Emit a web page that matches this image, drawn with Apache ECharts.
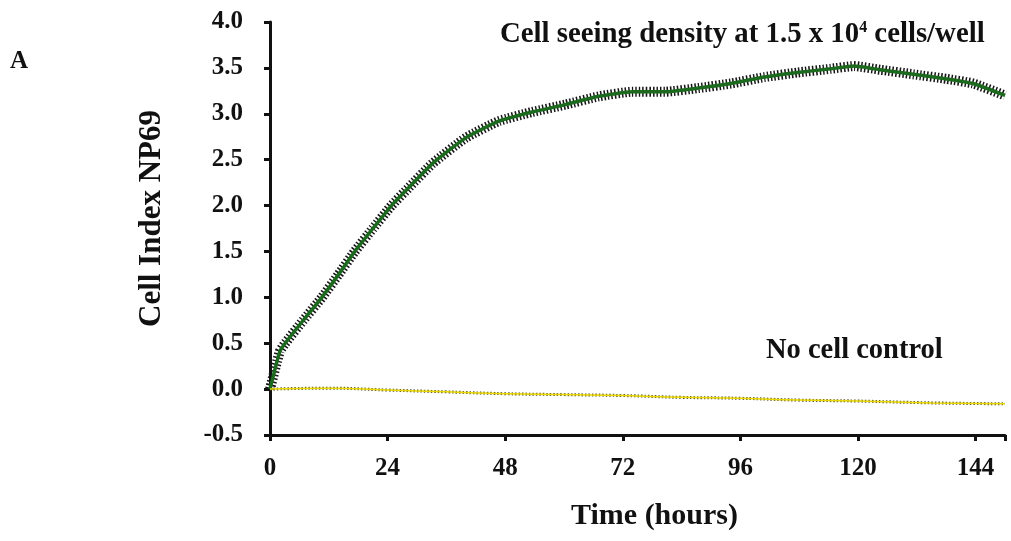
<!DOCTYPE html>
<html>
<head>
<meta charset="utf-8">
<script src="https://cdn.jsdelivr.net/npm/echarts@6/dist/echarts.min.js"></script>
<style>
  html, body { margin: 0; padding: 0; background: #fff; }
  #chart { width: 1011px; height: 541px; }
</style>
</head>
<body>
<div id="chart"></div>
<script>
// cell index readings (hours, value)
var cellTimes = [0, 2, 3.1, 6.8, 10.6, 14, 17.3, 21, 24.8, 28.4, 33.2, 40, 46.7, 53.5, 60.3, 67.1, 73.9, 80.6, 87.4, 94.1, 100.9, 107.7, 114.4, 119.2, 124.5, 131.3, 138.1, 143.5, 150]
var cellValues = [0, 0.41, 0.5, 0.75, 1.0, 1.25, 1.5, 1.75, 2.0, 2.2, 2.46, 2.74, 2.92, 3.02, 3.1, 3.19, 3.24, 3.24, 3.28, 3.33, 3.4, 3.45, 3.49, 3.52, 3.48, 3.43, 3.38, 3.33, 3.2]
var ctrlTimes = [0, 12, 24, 36, 48, 60, 72, 84, 96, 108, 120, 135, 150]
var ctrlValues = [0, 0.01, -0.01, -0.03, -0.05, -0.06, -0.07, -0.09, -0.1, -0.12, -0.13, -0.15, -0.16]
var xTicks = [0, 24, 48, 72, 96, 120, 144]

var font = 'Liberation Serif'
var chart = echarts.init(document.getElementById('chart'))

function pairs(t, v) {
  return t.map(function(x, i) { return [x, v[i]] })
}

chart.setOption({
  animation: false,
  backgroundColor: '#fff',
  grid: { left: 270, right: 6, top: 22, bottom: 106 },
  xAxis: {
    type: 'value',
    min: 0,
    max: 150,
    interval: 24,
    name: 'Time (hours)',
    nameLocation: 'middle',
    nameGap: 66,
    nameTextStyle: { fontFamily: font, fontWeight: 'bold', fontSize: 30, color: '#111', padding: [0, 0, 0, 34] },
    axisLine: { onZero: false, lineStyle: { color: '#111', width: 3 } },
    axisTick: { length: 6, lineStyle: { color: '#111', width: 3 } },
    axisLabel: {
      margin: 21, fontFamily: font, fontWeight: 'bold', fontSize: 25, color: '#111',
      formatter: function(v) { return xTicks.indexOf(v) >= 0 ? v : '' }
    },
    splitLine: { show: false }
  },
  yAxis: {
    type: 'value',
    min: -0.5,
    max: 4,
    interval: 0.5,
    name: 'Cell Index NP69',
    nameLocation: 'middle',
    nameGap: 103,
    nameTextStyle: { fontFamily: font, fontWeight: 'bold', fontSize: 31, color: '#111', padding: [0, 0, 0, 20] },
    axisLine: { show: true, lineStyle: { color: '#111', width: 3 } },
    axisTick: { show: true, length: 6, lineStyle: { color: '#111', width: 3 } },
    axisLabel: {
      margin: 27, fontFamily: font, fontWeight: 'bold', fontSize: 25, color: '#111',
      formatter: function(v) { return v.toFixed(1) }
    },
    splitLine: { show: false }
  },
  graphic: [
    { type: 'text', left: 10, top: 49, style: { text: 'A', font: 'bold 25px "Liberation Serif"', fill: '#111' } },
    { type: 'text', left: 766, top: 336, style: { text: 'No cell control', font: 'bold 28.5px "Liberation Serif"', fill: '#111' } },
    {
      type: 'text', left: 500, top: 20,
      style: {
        text: '{a|Cell seeing density at 1.5 x 10}{s|4}{a| cells/well}',
        rich: {
          a: { fontFamily: font, fontWeight: 'bold', fontSize: 28.8, fill: '#111', verticalAlign: 'bottom' },
          s: { fontFamily: font, fontWeight: 'bold', fontSize: 16, fill: '#111', verticalAlign: 'top', padding: [0, 0, 12, 0] }
        }
      }
    }
  ],
  series: [
    // error bars look: thick dashed black underlay
    {
      type: 'line', data: pairs(cellTimes, cellValues), smooth: 0.15, showSymbol: false, z: 2,
      lineStyle: { color: '#151515', width: 10, type: [1.5, 2] }
    },
    {
      type: 'line', data: pairs(cellTimes, cellValues), smooth: 0.15, showSymbol: false, z: 3,
      lineStyle: { color: '#1b6a1e', width: 3.5 }
    },
    {
      type: 'line', data: pairs(ctrlTimes, ctrlValues), smooth: true, showSymbol: false, z: 2,
      lineStyle: { color: '#5a5020', width: 3, type: [1.5, 2] }
    },
    {
      type: 'line', data: pairs(ctrlTimes, ctrlValues), smooth: true, showSymbol: false, z: 3,
      lineStyle: { color: '#e8d800', width: 1.5 }
    }
  ]
})
</script>
</body>
</html>
